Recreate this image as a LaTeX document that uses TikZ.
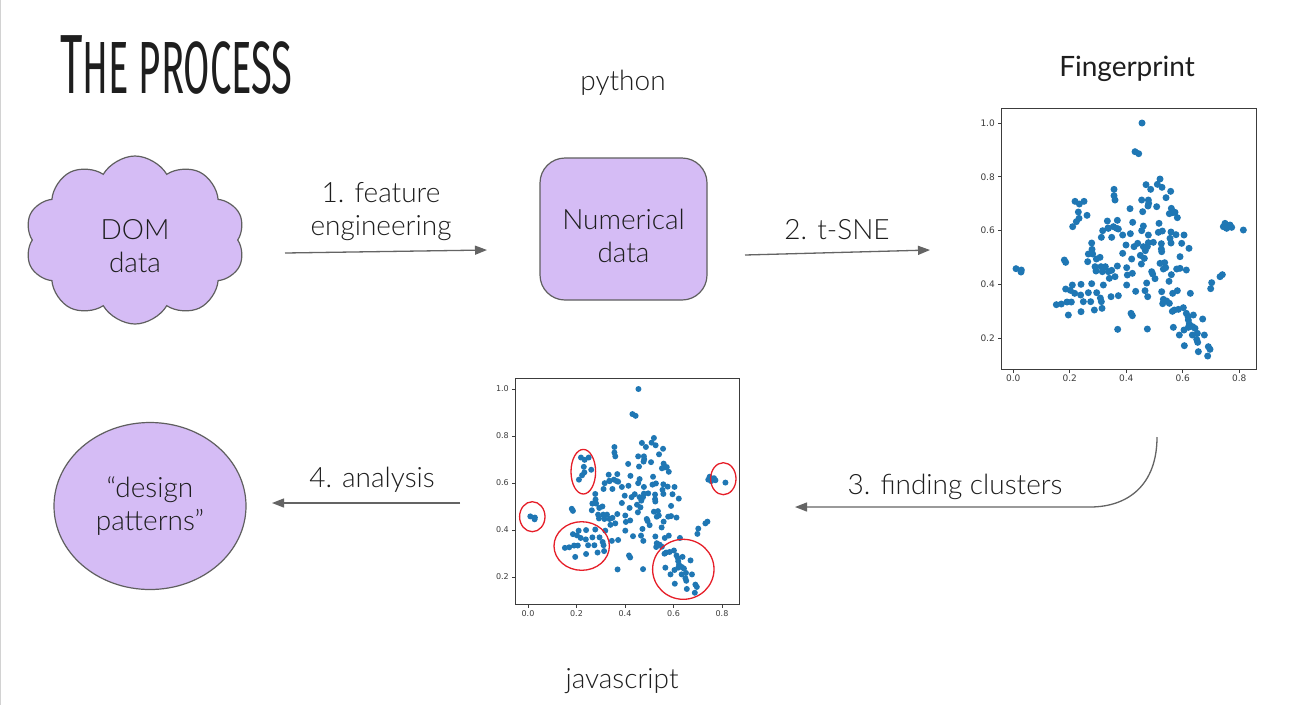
\documentclass[tikz,border=0pt]{standalone}
\usepackage{fontspec}
\IfFontExistsTF{Lato Light}{\setmainfont{Lato Light}}{\setmainfont{Lato}}
\newfontfamily\regfont{Lato}
\newfontfamily\titlefont[FakeStretch=0.515]{Fira Sans}
\newfontfamily\tickfont{DejaVu Sans}
\usetikzlibrary{arrows.meta,shapes.geometric,shapes.symbols}
\definecolor{lav}{RGB}{213,188,245}
\definecolor{edge}{RGB}{95,95,95}
\definecolor{ink}{RGB}{30,30,30}
\definecolor{arrowgray}{RGB}{100,100,100}
\definecolor{mplblue}{HTML}{1F77B4}
\definecolor{circred}{RGB}{230,30,40}
\definecolor{axisgray}{RGB}{60,60,60}
\def\pts{546/69,525/155,536/161,
168/506,184/510,183/516,
345/304,358/312,372/304,355/336,357/355,349/365,338/380,381/346,
313/480,317/487,
795/370,803/378,810/375,800/385,815/382,850/390,790/380,
780/530,787/524,755/548,752/566,
600/237,592/253,606/262,558/254,572/268,632/274,462/268,618/293,462/287,465/300,545/300,565/300,566/310,564/318,
590/320,510/326,548/335,634/325,638/338,645/337,628/341,652/353,
442/363,472/361,518/367,460/380,444/384,470/385,455/412,428/392,475/387,488/405,550/378,545/392,597/370,595/397,565/405,607/393,633/396,648/404,672/405,424/412,511/401,395/429,445/385,
498/435,522/440,533/430,550/440,562/440,565/428,580/427,604/431,604/447,630/415,633/429,665/430,687/445,605/455,556/452,541/466,553/475,515/477,488/460,420/472,409/477,396/448,398/462,385/462,383/485,660/470,
405/500,423/500,436/500,614/488,617/503,600/490,544/492,575/515,578/522,634/524,610/507,660/505,650/507,679/510,427/515,408/513,445/515,455/511,472/498,465/530,500/503,502/525,517/520,585/536,627/544,
363/553,337/555,317/567,331/571,395/551,448/535,430/555,410/578,500/555,527/574,555/572,563/590,560/549,605/575,610/598,620/603,638/580,652/572,691/580,362/585,370/605,344/580,385/578,421/594,392/605,334/606,
289/614,304/612,321/606,424/605,403/630,325/645,363/635,426/625,453/590,475/587,513/640,517/647,608/611,628/610,637/634,643/630,655/628,670/623,679/640,684/650,700/645,
473/688,562/687,685/660,688/672,685/682,698/680,705/685,712/700,672/690,640/682,697/705,728/657,658/705,710/718,713/727,673/737,715/755,733/705,745/740,750/748,743/768}
\begin{document}
\begin{tikzpicture}[x=1pt,y=-1pt,
  shapefill/.style={fill=lav,draw=edge,line width=1.2pt},
  lbl/.style={font=\fontsize{28}{33}\selectfont,text=ink,align=center},
  flow/.style={draw=arrowgray,line width=1.3pt,-{Triangle[length=12pt,width=9pt]}},
  axisbox/.style={draw=axisgray,line width=0.9pt},
  tickmark/.style={draw=axisgray,line width=0.8pt},
  ticklbl/.style={font=\tickfont\fontsize{9}{10}\selectfont,text=axisgray,inner sep=0pt},
  ticklblb/.style={font=\tickfont\fontsize{8}{9}\selectfont,text=axisgray,inner sep=0pt},
  clusterring/.style={draw=circred,line width=1.3pt}]
\useasboundingbox (0,0) rectangle (1316,705);
\fill[white] (0,0) rectangle (1316,705);
\draw[gray!35,line width=1.2pt] (0.6,0) -- (0.6,705);

% title
\node[anchor=base west,inner sep=0pt,text=ink] (title) at (60,93)
  {\titlefont\fontsize{84}{84}\selectfont T\fontsize{74}{74}\selectfont HE PROCESS};

% labels
\node[lbl] (python) at (623,83) {python};
\node[lbl,font=\regfont\fontsize{28}{33}\selectfont] (finger) at (1127,69) {Fingerprint};
\node[lbl] (javascript) at (622,681) {javascript};

% shapes
\node[cloud,cloud puffs=10,cloud puff arc=120,aspect=1.35,shapefill,
  minimum width=220,minimum height=168] (dom) at (135,240) {};
\node[lbl] (domtext) at ([yshift=-6pt]dom.center) {DOM\\data};
\node[rectangle,rounded corners=25pt,shapefill,minimum width=167,minimum height=142]
  (num) at (623.5,229) {};
\node[lbl] (numtext) at ([yshift=-7pt]num.center) {Numerical\\data};
\node[ellipse,shapefill,minimum width=192,minimum height=167,lbl,inner sep=0pt]
  (design) at (150,506) {“design\\patterns”};

% arrows
\coordinate (a1s) at (285,253); \coordinate (a1e) at (487,250);
\coordinate (a2s) at (745,255); \coordinate (a2e) at (930,250);
\coordinate (a3s) at (1157,437); \coordinate (a3e) at (795,507);
\coordinate (a4s) at (460,503); \coordinate (a4e) at (272,503);
\draw[flow] (a1s) -- (a1e);
\draw[flow] (a2s) -- (a2e);
\draw[flow] (a3s) .. controls (1157,485) and (1128,507) .. (1090,507) -- (a3e);
\draw[flow] (a4s) -- (a4e);
\node[lbl] (l1) at (381,212) {1. feature\\engineering};
\node[lbl] (l2) at (837,230) {2. t-SNE};
\node[lbl] (l3) at (955,487) {3. finding clusters};
\node[lbl] (l4) at (372,480) {4. analysis};

% plot 1 (fingerprint)
\draw[axisbox] (1001.7,108.3) rectangle (1256.7,369.3);
\foreach \k/\t in {0/0.0,1/0.2,2/0.4,3/0.6,4/0.8}{
  \draw[tickmark] ({1013.3+\k*56.5},369.3) -- ({1013.3+\k*56.5},373);
  \node[ticklbl,anchor=north] at ({1013.3+\k*56.5},375) {\t};}
\foreach \k/\t in {0/1.0,1/0.8,2/0.6,3/0.4,4/0.2}{
  \draw[tickmark] (1001.7,{123+\k*53.75}) -- (998,{123+\k*53.75});
  \node[ticklbl,anchor=east] at (995,{123+\k*53.75}) {\t};}
\foreach \a/\b in \pts{
  \fill[mplblue] ({960+\a/3},{100+\b/3}) circle[radius=3.5pt];}

% plot 2 (clusters)
\draw[axisbox] (515,378.3) rectangle (739.3,604.3);
\foreach \k/\t in {0/0.0,1/0.2,2/0.4,3/0.6,4/0.8}{
  \draw[tickmark] ({528+\k*48.5},604.3) -- ({528+\k*48.5},607.5);
  \node[ticklblb,anchor=north] at ({528+\k*48.5},610) {\t};}
\foreach \k/\t in {0/1.0,1/0.8,2/0.6,3/0.4,4/0.2}{
  \draw[tickmark] (515,{389+\k*47}) -- (511.8,{389+\k*47});
  \node[ticklblb,anchor=east] at (509,{389+\k*47}) {\t};}
\foreach \a/\b in \pts{
  \fill[mplblue] ({482.22+\a*0.28614},{368.89+\b*0.29147}) circle[radius=3.0pt];}
\draw[clusterring] (532.3,516.7) ellipse [x radius=12.7,y radius=15];
\draw[clusterring] (583.3,471.7) ellipse [x radius=12.3,y radius=22.3];
\draw[clusterring] (723.3,478.7) ellipse [x radius=12.7,y radius=16];
\draw[clusterring] (581.7,546) ellipse [x radius=27.7,y radius=24.3];
\draw[clusterring] (683.3,569.3) ellipse [x radius=30.7,y radius=30];
\end{tikzpicture}
\end{document}
